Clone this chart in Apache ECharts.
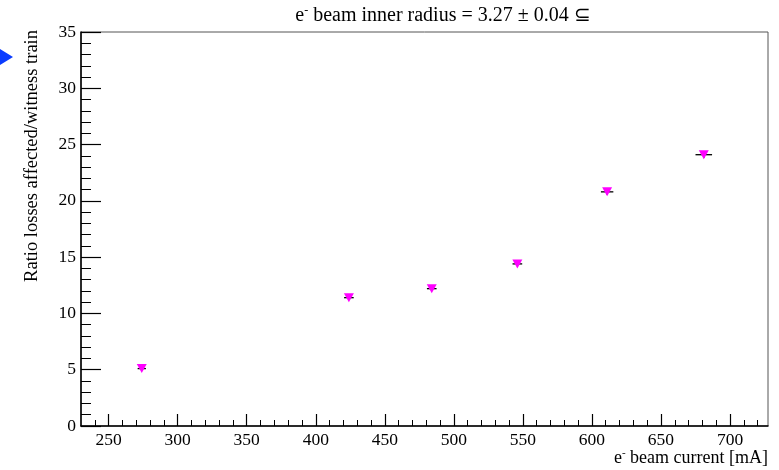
<!DOCTYPE html>
<html><head><meta charset="utf-8">
<script src="https://cdn.jsdelivr.net/npm/echarts@6/dist/echarts.min.js"></script>
<style>html,body{margin:0;padding:0;background:#fff}#c{width:779px;height:470px}</style>
</head><body><div id="c"></div>
<script>
// Data
const beamCurrent = [274, 424, 484, 546, 611, 681];
const ratio = [5.1, 11.4, 12.2, 14.4, 20.8, 24.1];
const currentErr = [3, 3.5, 3.5, 3.5, 4.5, 6];
const ratioErr = [0.2, 0.2, 0.2, 0.2, 0.25, 0.3];
const xMajorTicks = [250, 300, 350, 400, 450, 500, 550, 600, 650, 700];
const xMinorTicks = [240, 260, 270, 280, 290, 310, 320, 330, 340, 360, 370, 380, 390, 410, 420, 430, 440, 460, 470, 480, 490, 510, 520, 530, 540, 560, 570, 580, 590, 610, 620, 630, 640, 660, 670, 680, 690, 710, 720];
const xRange = [230, 727.5];
const yRange = [0, 35];
const titleText = '3.27 ± 0.04 ⊆';

const FONT = 'Liberation Serif';
const chart = echarts.init(document.getElementById('c'), null, {renderer: 'canvas'});

const pts = beamCurrent.map((x, i) => [x, ratio[i], currentErr[i], ratioErr[i]]);

const option = {
  animation: false,
  backgroundColor: '#fff',
  grid: {left: 81, right: 11, top: 32, bottom: 44, show: true, borderColor: '#555', borderWidth: 1},
  xAxis: [{
    type: 'value', min: xRange[0], max: xRange[1],
    axisLine: {show: true, onZero: false, lineStyle: {color: '#000', width: 1.5}},
    axisTick: {show: true, inside: true, length: 12, customValues: xMajorTicks, lineStyle: {color: '#000', width: 1.2}},
    axisLabel: {customValues: xMajorTicks, color: '#000', fontFamily: FONT, fontSize: 17.5, margin: 5},
    splitLine: {show: false}
  }, {
    type: 'value', min: xRange[0], max: xRange[1], position: 'bottom',
    axisLine: {show: false},
    axisTick: {show: true, inside: true, length: 6, customValues: xMinorTicks, lineStyle: {color: '#000', width: 1}},
    axisLabel: {show: false},
    splitLine: {show: false}
  }],
  yAxis: {
    type: 'value', min: yRange[0], max: yRange[1], interval: 5,
    axisLine: {show: true, onZero: false, lineStyle: {color: '#000', width: 1.5}},
    axisTick: {show: true, inside: true, length: 20, lineStyle: {color: '#000', width: 1.2}},
    minorTick: {show: true, splitNumber: 5, length: 10, lineStyle: {color: '#000', width: 1}},
    axisLabel: {color: '#000', fontFamily: FONT, fontSize: 17.5, margin: 5},
    splitLine: {show: false}, minorSplitLine: {show: false}
  },
  series: [{
    type: 'custom',
    data: pts,
    renderItem: function (params, api) {
      const x = api.value(0), y = api.value(1), ex = api.value(2), ey = api.value(3);
      const l = api.coord([x - ex, y]), r = api.coord([x + ex, y]);
      const t = api.coord([x, y + ey]), b = api.coord([x, y - ey]);
      const st = {stroke: '#000', lineWidth: 1.3};
      return {type: 'group', children: [
        {type: 'line', shape: {x1: l[0], y1: l[1], x2: r[0], y2: r[1]}, style: st},
        {type: 'line', shape: {x1: t[0], y1: t[1], x2: b[0], y2: b[1]}, style: st}
      ]};
    },
    z: 2
  }, {
    type: 'scatter',
    data: pts.map(p => [p[0], p[1]]),
    symbol: 'triangle', symbolRotate: 180, symbolSize: [10, 9],
    itemStyle: {color: '#ff00ff', opacity: 1},
    z: 3
  }],
  graphic: [
    {type: 'polygon', shape: {points: [[0, 49], [13, 57], [0, 65]]}, style: {fill: '#0a3cff'}},
    {type: 'text', x: 443, y: 16, style: {
      text: '{n|e}{s|-}{n| beam inner radius = ' + titleText + '}',
      align: 'center', verticalAlign: 'middle',
      rich: {n: {fontFamily: FONT, fontSize: 20, fill: '#000', fontWeight: 'normal'},
             s: {fontFamily: FONT, fontSize: 12, fill: '#000', padding: [0, 0, 10, 0]}}
    }},
    {type: 'text', x: 768, y: 458, style: {
      text: '{n|e}{s|-}{n| beam current [mA]}',
      align: 'right', verticalAlign: 'middle',
      rich: {n: {fontFamily: FONT, fontSize: 18, fill: '#000'},
             s: {fontFamily: FONT, fontSize: 11, fill: '#000', padding: [0, 0, 10, 0]}}
    }},
    {type: 'text', x: 32, y: 30, rotation: Math.PI / 2, style: {
      text: 'Ratio losses affected/witness train',
      align: 'right', verticalAlign: 'middle',
      fontFamily: FONT, fontSize: 18.5, fill: '#000'
    }}
  ]
};
chart.setOption(option);
</script></body></html>
